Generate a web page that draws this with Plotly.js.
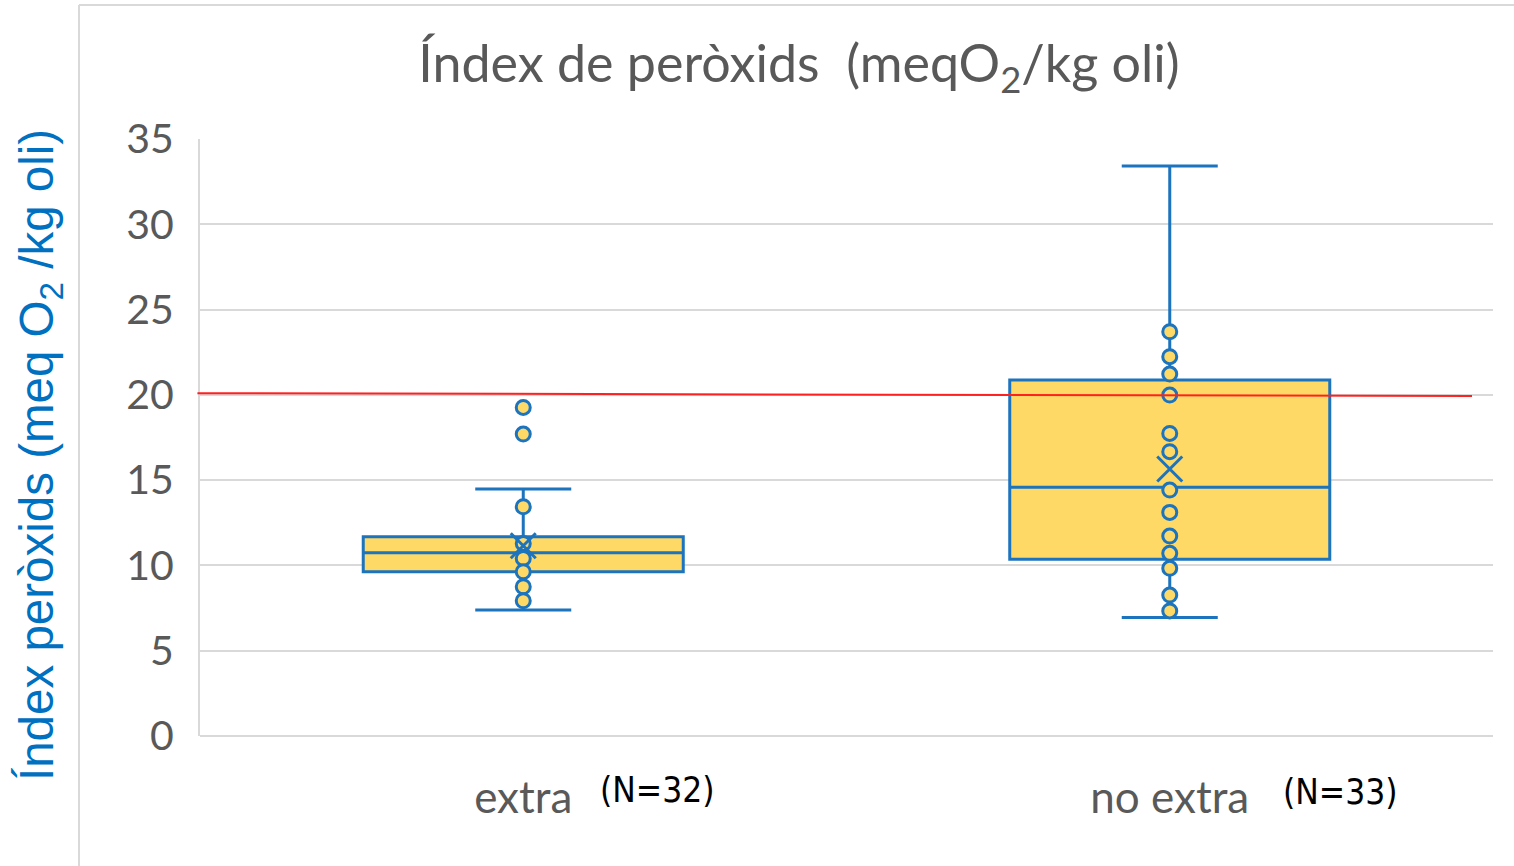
<!DOCTYPE html>
<html>
<head>
<meta charset="utf-8">
<script src="https://cdn.plot.ly/plotly-3.0.1.min.js"></script>
<style>html,body{margin:0;padding:0;background:#fff;}#chart{width:1514px;height:866px;}</style>
</head>
<body>
<div id="chart"></div>
<script>
// ---- data ----
const categories = ['extra', 'no extra'];
const nLabels = ['(N=32)', '(N=33)'];
const q1Values = [9.63, 10.36];
const medianValues = [10.74, 14.58];
const q3Values = [11.68, 20.87];
const lowerWhisker = [7.39, 6.94];
const upperWhisker = [14.48, 33.41];
const meanValues = [11.15, 15.65];
const extraPoints = [19.26, 17.70, 13.44, 11.29, 10.41, 9.63, 8.75, 7.93];
const noExtraPoints = [23.70, 22.24, 21.22, 19.99, 17.74, 16.67, 14.42, 13.11, 11.72, 10.71, 9.83, 8.26, 7.33];
const limitValue = [20.1, 19.93];
const yTicks = [0, 5, 10, 15, 20, 25, 30, 35];

const blue = '#1C73BE';
const gold = '#FFD966';

const pointsX = extraPoints.map(() => categories[0]).concat(noExtraPoints.map(() => categories[1]));
const pointsY = extraPoints.concat(noExtraPoints);

const traces = [
  {
    type: 'box',
    x: categories,
    q1: q1Values,
    median: medianValues,
    q3: q3Values,
    lowerfence: lowerWhisker,
    upperfence: upperWhisker,
    boxpoints: false,
    width: 0.495,
    whiskerwidth: 0.3,
    fillcolor: gold,
    line: {color: blue, width: 3},
    hoverinfo: 'skip',
    showlegend: false
  },
  {
    type: 'scatter',
    mode: 'markers',
    x: pointsX,
    y: pointsY,
    marker: {symbol: 'circle', size: 14, color: gold, line: {color: blue, width: 3}},
    hoverinfo: 'skip',
    showlegend: false
  },
  {
    type: 'scatter',
    mode: 'markers',
    x: categories,
    y: meanValues,
    marker: {symbol: 'x-thin', size: 25, color: blue, line: {color: blue, width: 3}},
    hoverinfo: 'skip',
    showlegend: false
  }
];

const L = 200, R = 1493, T = 139, B = 736;
const px = v => (v - L) / (R - L);
const py = v => (B - v) / (B - T);

const layout = {
  width: 1514,
  height: 866,
  margin: {l: L, r: 1514 - R, t: T, b: 866 - B, pad: 0},
  paper_bgcolor: '#ffffff',
  plot_bgcolor: '#ffffff',
  showlegend: false,
  hovermode: false,
  title: {
    text: 'Índex de peròxids  (meqO<sub>2</sub>/kg oli)',
    font: {family: 'Lato, "Open Sans", sans-serif', size: 52, color: '#595959'},
    xref: 'container', yref: 'container',
    x: 799 / 1514, xanchor: 'center',
    y: 1 - 64 / 866, yanchor: 'middle'
  },
  xaxis: {
    type: 'category',
    range: [-0.5, 1.5],
    showgrid: false,
    showline: false,
    zeroline: false,
    ticks: '',
    ticklabelstandoff: 32,
    tickfont: {family: 'Lato, "Open Sans", sans-serif', size: 44, color: '#595959'}
  },
  yaxis: {
    range: [0, 35],
    tickvals: yTicks,
    ticktext: yTicks.map(String),
    showgrid: true,
    gridcolor: '#D9D9D9',
    gridwidth: 2,
    zeroline: true,
    zerolinecolor: '#D9D9D9',
    zerolinewidth: 2,
    showline: true,
    linecolor: '#D9D9D9',
    linewidth: 2,
    ticks: '',
    ticklabelstandoff: 16,
    tickfont: {family: 'Lato, "Open Sans", sans-serif', size: 41, color: '#595959'}
  },
  shapes: [
    {type: 'line', xref: 'paper', yref: 'y', x0: -0.002, x1: px(1472), y0: limitValue[0], y1: limitValue[1],
     line: {color: '#FF2020', width: 2}, layer: 'above'},
    {type: 'line', xref: 'paper', yref: 'paper', x0: px(79), x1: px(79), y0: py(5), y1: py(880),
     line: {color: '#D9D9D9', width: 2}},
    {type: 'line', xref: 'paper', yref: 'paper', x0: px(79), x1: px(1530), y0: py(5), y1: py(5),
     line: {color: '#D9D9D9', width: 2}}
  ],
  annotations: [
    {text: nLabels[0], xref: 'paper', yref: 'paper', x: px(598), y: py(790), xanchor: 'left', yanchor: 'middle',
     showarrow: false, font: {family: '"Liberation Sans Narrow", "DejaVu Sans Condensed", sans-serif', size: 35, color: '#000000'}},
    {text: nLabels[1], xref: 'paper', yref: 'paper', x: px(1281), y: py(792), xanchor: 'left', yanchor: 'middle',
     showarrow: false, font: {family: '"Liberation Sans Narrow", "DejaVu Sans Condensed", sans-serif', size: 35, color: '#000000'}},
    {text: 'Índex peròxids (meq O<sub>2</sub> /kg oli)', xref: 'paper', yref: 'paper', x: px(40), y: py(455),
     xanchor: 'center', yanchor: 'middle', textangle: -90, showarrow: false,
     font: {family: '"Liberation Sans", Arial, sans-serif', size: 47.5, color: '#0070C0'}}
  ]
};

Plotly.newPlot('chart', traces, layout, {staticPlot: true, displayModeBar: false});
</script>
</body>
</html>
